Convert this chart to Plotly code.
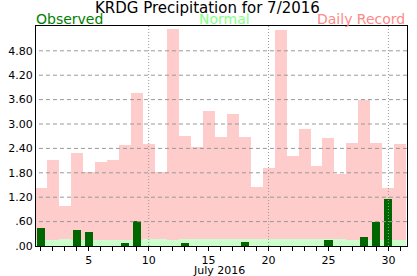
import plotly.graph_objects as go

days = list(range(1, 32))
record = [1.42, 2.11, 0.99, 2.28, 1.82, 2.06, 2.11, 2.48, 3.76, 2.51,
          1.82, 5.33, 2.70, 2.43, 3.32, 2.68, 3.24, 2.68, 1.46, 1.92,
          5.31, 2.21, 2.87, 1.97, 2.65, 1.77, 2.53, 3.59, 2.53, 1.42, 2.51]
normal = [0.15, 0.15, 0.17, 0.15, 0.15, 0.15, 0.15, 0.15, 0.15, 0.17,
          0.17, 0.15, 0.17, 0.17, 0.17, 0.17, 0.17, 0.17, 0.17, 0.17,
          0.17, 0.17, 0.17, 0.17, 0.17, 0.17, 0.15, 0.15, 0.15, 0.15, 0.15]
observed = [0.44, 0, 0, 0.39, 0.34, 0, 0, 0.07, 0.61, 0,
            0, 0, 0.07, 0, 0, 0, 0, 0.10, 0, 0,
            0, 0, 0, 0, 0.15, 0, 0, 0.22, 0.59, 1.15, 0]
ytick_vals = [0, 0.6, 1.2, 1.8, 2.4, 3.0, 3.6, 4.2, 4.8]
ytick_text = [".00", ".60", "1.20", "1.80", "2.40", "3.00", "3.60", "4.20", "4.80"]
xtick_text = [str(d) if d % 5 == 0 else "" for d in days]
vgrid_days = [10, 20, 30]

FONT = "DejaVu Sans"

fig = go.Figure()
fig.add_trace(go.Bar(x=days, y=record, width=1.0, marker=dict(color="#ffcccc", line=dict(width=0)), hoverinfo="skip"))
fig.add_trace(go.Bar(x=days, y=normal, width=1.0, marker=dict(color="#ccffcc", line=dict(width=0)), hoverinfo="skip"))
fig.add_trace(go.Bar(x=days, y=observed, width=0.67, marker=dict(color="#006600", line=dict(width=0)), hoverinfo="skip"))

shapes = []
for v in ytick_vals[1:]:
    shapes.append(dict(type="line", xref="paper", yref="y", x0=0.008, x1=1, y0=v, y1=v,
                       line=dict(color="#999999", width=1, dash="4px,3px"), layer="above"))
for d in vgrid_days:
    shapes.append(dict(type="line", xref="x", yref="paper", x0=d, x1=d, y0=0, y1=1,
                       line=dict(color="#999999", width=1, dash="1px,2px"), layer="above"))

fig.update_layout(
    width=417, height=276,
    margin=dict(l=36, r=10, t=26, b=30, autoexpand=False),
    paper_bgcolor="white", plot_bgcolor="white",
    barmode="overlay", bargap=0, showlegend=False,
    shapes=shapes,
    font=dict(family=FONT, size=11, color="black"),
    xaxis=dict(range=[0.6, 31.55], tickvals=days, ticktext=xtick_text,
               ticks="outside", ticklen=4, tickcolor="black", tickwidth=1,
               ticklabelstandoff=0, automargin=False,
               showgrid=False, zeroline=False, showline=True, linecolor="black",
               linewidth=1, mirror=True, tickfont=dict(size=11, family=FONT)),
    yaxis=dict(range=[0, 5.41], tickvals=ytick_vals, ticktext=ytick_text,
               ticks="", showgrid=False, zeroline=False, showline=True, automargin=False,
               linecolor="black", linewidth=1, mirror=True,
               tickfont=dict(size=11, family=FONT)),
    annotations=[
        dict(text="July 2016", xref="paper", yref="paper", x=0.5, y=0,
             xanchor="center", yanchor="top", yshift=-16, xshift=-3, showarrow=False,
             font=dict(size=11, family=FONT, color="black")),
        dict(text="KRDG Precipitation for 7/2016", xref="paper", yref="paper", x=0.5, y=1,
             xanchor="center", yanchor="top", yshift=29, xshift=-14, showarrow=False,
             font=dict(size=15, family=FONT, color="black")),
        dict(text="Observed", xref="paper", yref="paper", x=0, y=1, xanchor="left",
             yanchor="middle", yshift=7, xshift=-2, showarrow=False,
             font=dict(size=14, family=FONT, color="#008000")),
        dict(text="Normal", xref="paper", yref="paper", x=0.5, y=1, xanchor="center",
             yanchor="middle", yshift=7, xshift=3, showarrow=False,
             font=dict(size=14, family=FONT, color="#88ff88")),
        dict(text="Daily Record", xref="paper", yref="paper", x=1, y=1, xanchor="right",
             yanchor="middle", yshift=7, xshift=0, showarrow=False,
             font=dict(size=14, family=FONT, color="#ff8888")),
    ],
)

fig.write_html("out.html")
